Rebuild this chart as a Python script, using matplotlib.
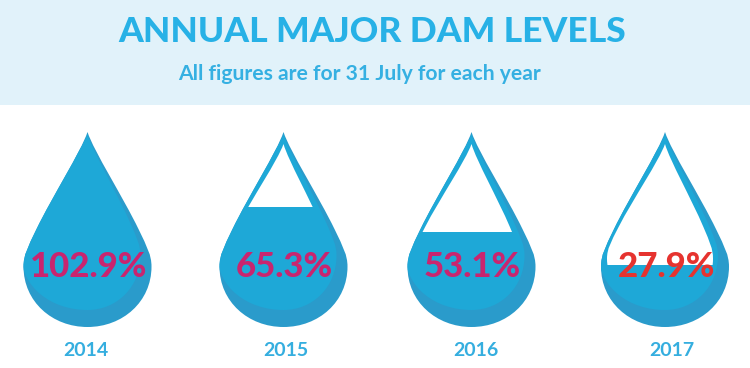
#!/usr/bin/env python

import matplotlib
matplotlib.use("Agg")
import matplotlib.pyplot as plt
from matplotlib.patches import PathPatch, Rectangle
from matplotlib.path import Path

years = ["2014", "2015", "2016", "2017"]
levels = [102.9, 65.3, 53.1, 27.9]
# share of the drop height that is filled
fill_share = [1.0, 0.615, 0.487, 0.318]
label_colors = ["#c9256f", "#c9256f", "#c9256f", "#e6332f"]

drop_x = [87.5, 283.5, 471.5, 665]
year_x = [85.5, 286, 476, 672]
top = 132
bottom = 327

plt.rcParams['font.family'] = ['Lato', 'DejaVu Sans']


def drop(cx, y0, y1, left, right):
    h = y1 - y0
    # one side from the tip to the widest point, as width and height shares
    side = [(0.10, 0.10), (0.55, 0.33), (0.80, 0.50), (0.93, 0.59), (1.0, 0.63), (1.0, 0.69)]
    back = [(1.0, 0.63), (0.93, 0.59), (0.80, 0.50), (0.55, 0.33), (0.10, 0.10), (0.0, 0.0)]
    verts = [(cx, y0)]
    verts += [(cx + right * a, y0 + h * b) for a, b in side]
    verts += [(cx + right, y0 + h * 0.87), (cx + right * 0.55, y1), (cx, y1)]
    verts += [(cx - left * 0.55, y1), (cx - left, y0 + h * 0.87), (cx - left, y0 + h * 0.69)]
    verts += [(cx - left * a, y0 + h * b) for a, b in back]
    codes = [Path.MOVETO] + [Path.CURVE4] * (len(verts) - 1)
    return Path(verts, codes)


fig = plt.figure(figsize=(7.5, 3.68), dpi=100)
ax = fig.add_axes([0, 0, 1, 1])
ax.set_xlim(0, 750)
ax.set_ylim(368, 0)
ax.axis("off")

ax.add_patch(Rectangle((0, 0), 750, 105, color="#e1f2fa", lw=0))
ax.text(372.5, 32, "ANNUAL MAJOR DAM LEVELS", color="#27b1e6", fontsize=25.5,
        fontweight=900, ha="center", va="center")
ax.text(359, 74, "All figures are for 31 July for each year", color="#35b0e2",
        fontsize=15.2, fontweight="bold", ha="center", va="center")

for i, year in enumerate(years):
    cx = drop_x[i]
    level_y = bottom - fill_share[i] * (bottom - top)

    outer = PathPatch(drop(cx, top, bottom, 64, 64), fc="#2a9bcb", ec="none")
    ax.add_patch(outer)

    # lighter water, leaves a darker crescent right and below
    light = PathPatch(drop(cx, top + 2, bottom - 17, 66, 53), fc="#1ea8d7", ec="none")
    ax.add_patch(light)
    light.set_clip_path(outer)

    if fill_share[i] < 1:
        air = PathPatch(drop(cx, top + 12, bottom - 17, 58, 48), fc="white", ec="none")
        ax.add_patch(air)
        air.set_clip_path(Rectangle((0, 0), 750, level_y, transform=ax.transData))

    ax.text(cx + 1, 267, "%.1f%%" % levels[i], color=label_colors[i], fontsize=25,
            fontweight=900, ha="center", va="center")
    ax.text(year_x[i], 350, year, color="#35aedf", fontsize=14,
            fontweight="bold", ha="center", va="center")

plt.savefig("out.png", dpi=100)
